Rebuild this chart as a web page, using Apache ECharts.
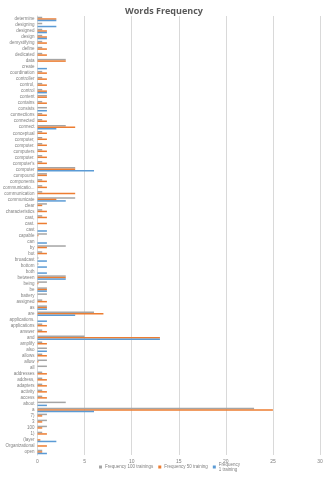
<!DOCTYPE html>
<html><head><meta charset="utf-8">
<script src="https://cdn.jsdelivr.net/npm/echarts@6/dist/echarts.min.js"></script>
<style>html,body{margin:0;padding:0;background:#fff}#c{width:328px;height:480px}</style>
</head><body><div id="c"></div>
<script>
const categories = ["determine","designing","designed","design","demystifying","define","dedicated","data","create","coordination","controller","control,","control","content","contains","consists","connections","connected","connect","conceptual","computer,","computer.","computers","computer.","computer's","computer","compound","components","communicatio...","communication","communicate","clear","characteristics","cast,","cast.","cast","capable","can","by","but","broadcast","bottom","both","between","being","be","battery","assigned","as","are","applications.","applications","answer","and","amplify","also","allows","allow","all","addresses","address,","adapters","activity","access","about","a","7)","3","100","1)","(layer","Organizational","open"];
const freq100 = [0.5,0.5,0.5,0.5,0.5,0.5,0.5,3,0,0.5,0.5,0.5,0.5,1,0.5,1,0.5,0.5,3,0.5,0.5,0.5,0.5,0.5,0.5,4,1,0.5,0.5,0.5,4,1,0.5,0.5,0,0,1,0,3,0.5,0.1,0.1,0,3,1,1,1,0.5,1,6,0,0.5,0.5,5,0.5,1,0.5,1,1,0.5,0.5,0.5,0.5,0.5,3,23,1,1,1,0.5,0,0,0.5];
const freq50 = [2,0,1,1,1,1,1,3,0,1,1,1,1,1,1,0,1,1,4,1,1,1,1,1,1,4,1,1,1,4,2,0.5,1,1,1,0,0.1,0,1,1,0,0,0,3,0.1,1,0,1,1,7,0,1,1,13,1,0,1,0.1,0,1,1,1,1,1,0,25,0.5,0.5,0.5,1,0.3,1,0.5];
const freq1 = [2,2,1,1,0,0,0,0,1,0,0,0,1,0,0,1,0,0,2,0,0,0,0,0,0,6,0,0,0,0,3,0,0,0,0,1,0,1,0,0,1,1,1,3,0,1,0,0,1,4,1,0,0,13,0,1,0,0,0,0,0,0,0,0,1,6,0,0,0,0,2,0,1];
const xTicks = [0,5,10,15,20,25,30];
const seriesNames = ["Frequency 100 trainings","Frequency 50 training","Frequency 1 training"];
const colors = ["#A5A5A5","#ED7D31","#5B9BD5"];

const chart = echarts.init(document.getElementById('c'), null, {renderer:'canvas'});
const font = "Liberation Sans";
chart.setOption({
  animation:false,
  title:{text:"Words Frequency",left:'center',top:2,textStyle:{fontSize:9,fontWeight:'bold',color:'#595959',fontFamily:"Open Sans"}},
  legend:{bottom:3,left:94,itemWidth:3,itemHeight:3,itemGap:5,icon:'rect',
    data:seriesNames,
    textStyle:{fontSize:4.5,color:'#7F7F7F',fontFamily:font,padding:[0,0,0,-2]},
    formatter:function(n){return n==="Frequency 1 training"?"Frequency\n1 training":n;}},
  grid:{left:36,right:8,top:16,bottom:25,containLabel:false},
  xAxis:{type:'value',min:xTicks[0],max:xTicks[xTicks.length-1],interval:5,
    axisLabel:{fontSize:5,color:'#7F7F7F',fontFamily:font,margin:4},
    splitLine:{lineStyle:{color:'#D9D9D9',width:1}},axisLine:{show:false},axisTick:{show:false}},
  yAxis:{type:'category',data:categories,inverse:true,
    axisLabel:{fontSize:4.5,color:'#7F7F7F',fontFamily:font,interval:0,margin:3},
    axisLine:{lineStyle:{color:'#D9D9D9'}},axisTick:{show:false}},
  series:[
    {name:seriesNames[0],type:'bar',data:freq100,itemStyle:{color:colors[0]},barGap:'0%',barCategoryGap:'25%'},
    {name:seriesNames[1],type:'bar',data:freq50,itemStyle:{color:colors[1]},barGap:'0%',barCategoryGap:'25%'},
    {name:seriesNames[2],type:'bar',data:freq1,itemStyle:{color:colors[2]},barGap:'0%',barCategoryGap:'25%'}
  ]
});
</script></body></html>
